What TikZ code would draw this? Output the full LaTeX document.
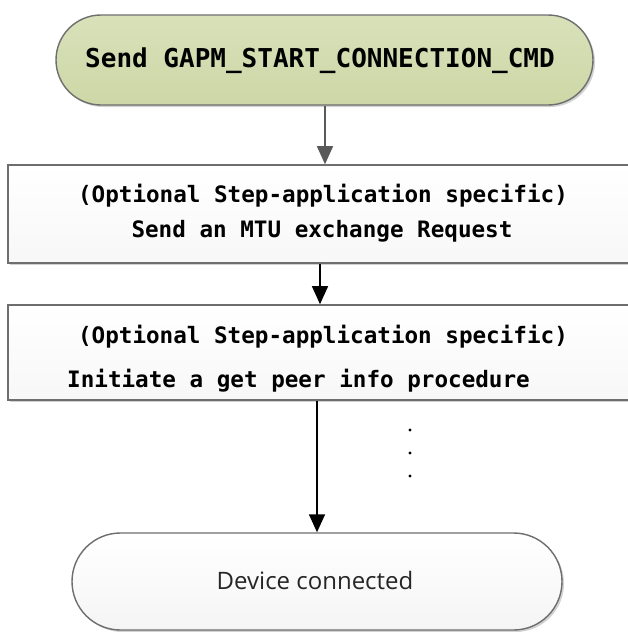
\documentclass[tikz,border=0pt]{standalone}
\usepackage{fontspec}
\usetikzlibrary{arrows.meta,shadows,shapes.misc}
\newfontfamily\monob{DejaVu Sans Mono}
\newfontfamily\sansr{Open Sans}
\definecolor{pillgreen}{HTML}{CDD7A6}
\definecolor{pillgreenlt}{HTML}{D9E1BA}
\definecolor{edgegray}{HTML}{6E6E6E}
\begin{document}
\begin{tikzpicture}[x=1pt,y=-1pt,
  pill/.style={rounded rectangle, draw=edgegray, line width=1.4pt, inner sep=0pt,
     drop shadow={shadow xshift=2pt, shadow yshift=-2pt, fill=black!35, opacity=0.5}},
  stepbox/.style={rectangle, draw=edgegray, line width=1.6pt, inner sep=0pt,
     top color=white, bottom color=black!3,
     drop shadow={shadow xshift=2pt, shadow yshift=-2pt, fill=black!35, opacity=0.5}},
  mono/.style={font=\monob\bfseries\fontsize{22.6}{27}\selectfont, inner sep=0pt, anchor=base},
  arr/.style={line width=1.4pt, -{Triangle[length=18pt,width=16pt]}}
]
\useasboundingbox (0,0) rectangle (627,632);
\fill[white] (0,0) rectangle (627,632);
% shapes
\node[pill, top color=pillgreenlt, bottom color=pillgreen, minimum width=537pt, minimum height=90pt] (start) at (324.5,60) {};
\node[stepbox, minimum width=640pt, minimum height=98pt] (box1) at (328,214) {};
\node[stepbox, minimum width=640pt, minimum height=95pt] (box2) at (328,352.5) {};
\node[pill, top color=white, bottom color=black!4, minimum width=490pt, minimum height=97pt] (done) at (317,581.5) {};
% texts
\node[mono, font=\monob\bfseries\fontsize{26}{31}\selectfont] (t0) at (320,67) {Send GAPM\_START\_CONNECTION\_CMD};
\node[mono] (t1a) at (323,202) {(Optional Step-application specific)};
\node[mono] (t1b) at (322,237) {Send an MTU exchange Request};
\node[mono] (t2a) at (323,343) {(Optional Step-application specific)};
\node[mono, anchor=base west] (t2b) at (67,387) {Initiate a get peer info procedure};
\node[font=\sansr\fontsize{24}{29}\selectfont, inner sep=0pt, anchor=base, text=black!85] (t3) at (315,589) {Device connected};
% dots
\fill (410,430) circle (1.6pt) (410,453) circle (1.6pt) (410,476) circle (1.6pt);
% connectors
\draw[arr, draw=black!65, fill=black!65] ([xshift=0.5pt]start.south) -- ([xshift=0.5pt]start.south |- box1.north);
\draw[arr] ([xshift=-8pt]box1.south) -- ([xshift=-8pt]box1.south |- box2.north);
\draw[arr] (done.north |- box2.south) -- (done.north);
\end{tikzpicture}
\end{document}
